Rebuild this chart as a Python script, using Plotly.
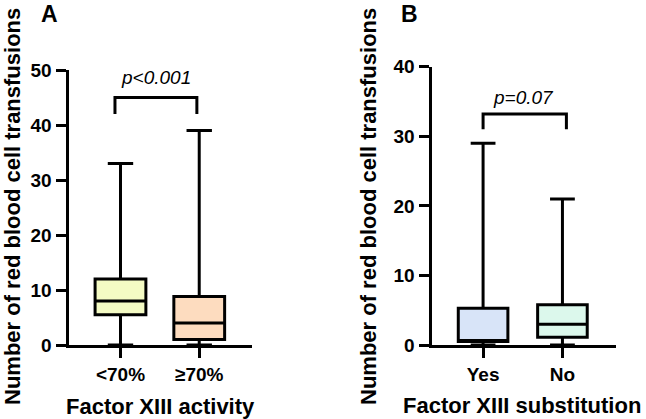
import plotly.graph_objects as go

W, H = 646, 419

# ---- data ----
cats_a = ["<70%", "≥70%"]
lo_a = [0, 0]
q1_a = [5.5, 1]
med_a = [8, 4]
q3_a = [12, 8.8]
hi_a = [33, 39]
fill_a = ["#f4fbc4", "#fddcbf"]

cats_b = ["Yes", "No"]
lo_b = [0, 0]
q1_b = [0.5, 1.1]
med_b = [0.5, 3]
q3_b = [5.3, 5.8]
hi_b = [29, 21]
fill_b = ["#d8e4f8", "#dcf8ec"]

p_a = "p<0.001"
p_b = "p=0.07"
bracket_a = dict(x0=-0.07, x1=0.97, top=45, leg=42)
bracket_b = dict(x0=0.0, x1=1.05, top=33.2, leg=31)

FONT = "Liberation Sans, Arial, sans-serif"

fig = go.Figure()

def px2paper_x(p):
    return p / W

def px2paper_y(p):
    return 1 - p / H

for cats, lo, q1, med, q3, hi, fills, ax, bw in [
    (cats_a, lo_a, q1_a, med_a, q3_a, hi_a, fill_a, "", 0.645),
    (cats_b, lo_b, q1_b, med_b, q3_b, hi_b, fill_b, "2", 0.625),
]:
    for i, c in enumerate(cats):
        fig.add_trace(go.Box(
            x=[c], q1=[q1[i]], median=[med[i]], q3=[q3[i]],
            lowerfence=[lo[i]], upperfence=[hi[i]],
            fillcolor=fills[i], line=dict(color="black", width=3),
            width=bw, whiskerwidth=0.5, boxpoints=False,
            showlegend=False, hoverinfo="skip",
            xaxis="x" + ax, yaxis="y" + ax,
        ))

axis_common = dict(
    showline=True, linecolor="black", linewidth=3,
    ticks="outside", ticklen=10, tickwidth=3, tickcolor="black",
    showgrid=False, zeroline=False,
    tickfont=dict(family=FONT, size=19, color="black", weight="bold"),
    fixedrange=True, automargin=False,
)

fig.update_layout(
    width=W, height=H,
    margin=dict(l=0, r=0, t=0, b=0),
    paper_bgcolor="white", plot_bgcolor="white",
    showlegend=False,
    boxmode="overlay",
    xaxis=dict(axis_common, domain=[px2paper_x(68.5), px2paper_x(252)],
               type="category", categoryorder="array", categoryarray=cats_a,
               range=[-0.66, 1.67], anchor="y"),
    yaxis=dict(axis_common, domain=[px2paper_y(345), px2paper_y(70)],
               range=[0, 50], tickvals=[0, 10, 20, 30, 40, 50], anchor="x"),
    xaxis2=dict(axis_common, domain=[px2paper_x(431.5), px2paper_x(616)],
                type="category", categoryorder="array", categoryarray=cats_b,
                range=[-0.65, 1.675], anchor="y2"),
    yaxis2=dict(axis_common, domain=[px2paper_y(345), px2paper_y(66.7)],
                range=[0, 40], tickvals=[0, 10, 20, 30, 40], anchor="x2"),
)

# brackets
for br, xr, yr in [(bracket_a, "x", "y"), (bracket_b, "x2", "y2")]:
    fig.add_shape(type="path",
                  path=f"M {br['x0']},{br['leg']} L {br['x0']},{br['top']} L {br['x1']},{br['top']} L {br['x1']},{br['leg']}",
                  xref=xr, yref=yr, line=dict(color="black", width=3))

def note(text, x, y, size, weight="bold", style="normal", angle=0):
    return dict(text=text, x=px2paper_x(x), y=px2paper_y(y), xref="paper", yref="paper",
                xanchor="center", yanchor="middle", showarrow=False, textangle=angle,
                font=dict(family=FONT, size=size, color="black", weight=weight, style=style))

ytitle = "Number of red blood cell transfusions"
ann = [
    note(p_a, 156, 77, 19, weight="normal", style="italic"),
    note(p_b, 523, 98, 19, weight="normal", style="italic"),
    note("A", 49, 14, 23),
    note("B", 409, 14, 23),
    note("Factor XIII activity", 160, 406, 22),
    note("Factor XIII substitution", 522, 405, 22),
    note(ytitle, 13, 207, 22, angle=-90),
    note(ytitle, 369, 207, 22, angle=-90),
]
fig.update_layout(annotations=ann)

fig.write_html(
    "out.html",
    config={"displayModeBar": False},
    post_script="document.body.style.margin='0';document.body.style.overflow='hidden';",
)
